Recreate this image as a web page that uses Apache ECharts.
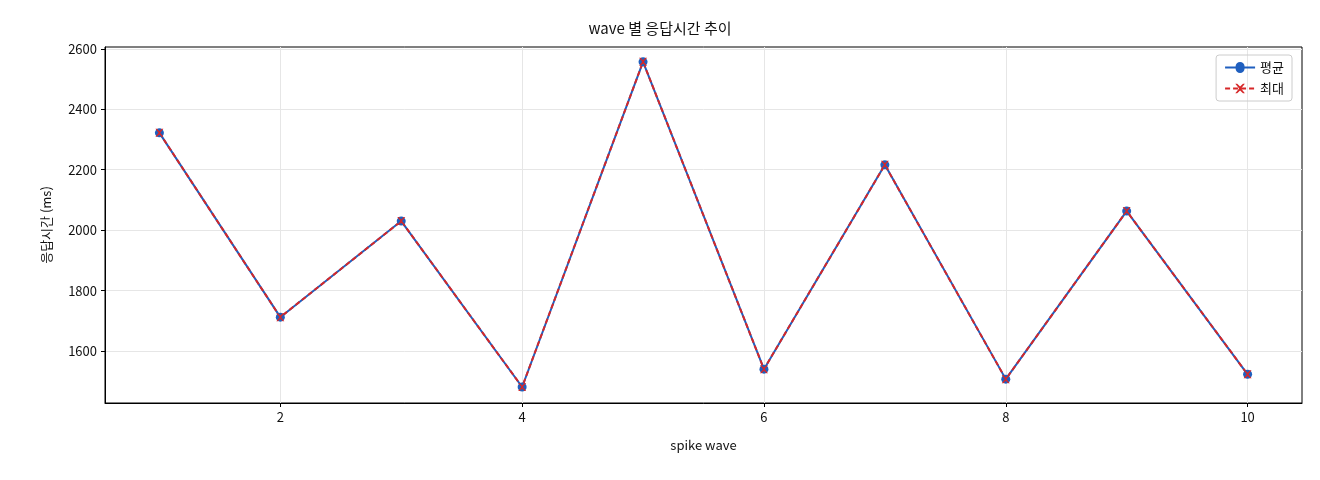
<!DOCTYPE html>
<html><head><meta charset="utf-8">
<script src="https://cdn.jsdelivr.net/npm/echarts@6/dist/echarts.min.js"></script>
<style>html,body{margin:0;padding:0;background:#fff}#c{width:1320px;height:480px}</style>
</head><body><div id="c"></div>
<script>
const waves = [1,2,3,4,5,6,7,8,9,10];
const avgValues = [2322,1712,2030,1481,2557,1540,2216,1507,2063,1523];
const maxValues = [2322,1712,2030,1481,2557,1540,2216,1507,2063,1523];
const xTicks = [2,4,6,8,10];
const yTicks = [1600,1800,2000,2200,2400,2600];
const font = "'Noto Sans CJK KR', 'DejaVu Sans', sans-serif";
const chart = echarts.init(document.getElementById('c'));
chart.setOption({
  animation:false,
  textStyle:{fontFamily:font},
  title:{text:'wave 별 응답시간 추이',left:'center',top:16,textStyle:{fontSize:15,fontWeight:'normal',color:'#111',fontFamily:font}},
  legend:{right:28,top:55,orient:'vertical',itemWidth:30,itemHeight:12,itemGap:8,
    borderColor:'#ccc',borderWidth:1,borderRadius:3,padding:[6,8],
    textStyle:{fontSize:13,color:'#111'},
    data:[{name:'평균',icon:'path://M0,5L10.5,5A4.5,4.5 0 0 1 19.5,5L30,5L30,7L19.5,7A4.5,4.5 0 0 1 10.5,7L0,7Z'},{name:'최대'}]},
  grid:{left:105,right:18,top:47,bottom:77,show:true,borderColor:'#000',borderWidth:1},
  xAxis:{type:'value',min:0.55,max:10.45,
    name:'spike wave',nameLocation:'middle',nameGap:36,nameTextStyle:{fontSize:13,color:'#111'},
    axisLine:{lineStyle:{color:'#000'}},axisTick:{show:true,length:4,lineStyle:{color:'#000'},customValues:xTicks},
    axisLabel:{fontSize:13,color:'#111',customValues:xTicks,formatter:v=>String(v)},
    splitLine:{show:true,lineStyle:{color:'#e6e6e6'}}},
  yAxis:{type:'value',min:1428,max:2606,
    name:'응답시간 (ms)',nameLocation:'middle',nameGap:52,nameTextStyle:{fontSize:13,color:'#111'},
    axisLine:{show:true,lineStyle:{color:'#000'}},axisTick:{show:true,length:4,lineStyle:{color:'#000'},customValues:yTicks},
    axisLabel:{fontSize:13,color:'#111',customValues:yTicks,formatter:v=>String(v)},
    splitLine:{show:true,lineStyle:{color:'#e6e6e6'}}},
  series:[
    {name:'평균',type:'line',data:waves.map((w,i)=>[w,avgValues[i]]),
      symbol:'circle',symbolSize:9,itemStyle:{color:'#1f5fbf'},lineStyle:{color:'#1f5fbf',width:2}},
    {name:'최대',type:'line',data:waves.map((w,i)=>[w,maxValues[i]]),
      symbol:'path://M0,0L2,0L5,3L8,0L10,0L6,5L10,10L8,10L5,7L2,10L0,10L4,5Z',symbolSize:8,
      itemStyle:{color:'#d62728'},lineStyle:{color:'#d62728',width:2,type:[5,3]}}
  ]
});
</script></body></html>
